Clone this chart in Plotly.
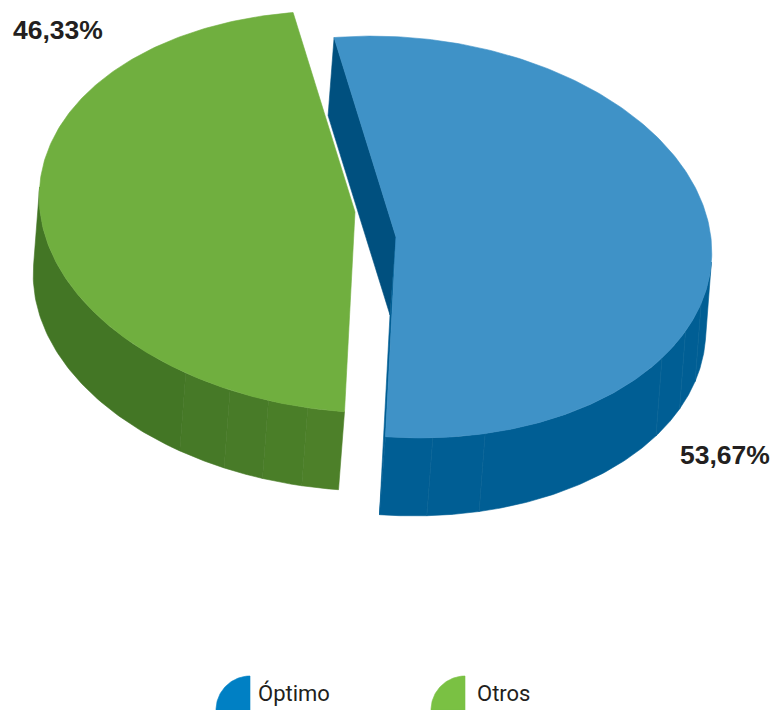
import numpy as np
import plotly.graph_objects as go

# --- data ---
categories = ["Óptimo", "Otros"]
shares = [53.67, 46.33]
value_labels = ["53,67%", "46,33%"]

# --- styles and geometry of the tilted disc (pixels) ---
W, H = 776, 710
top_colors = ["#3f92c7", "#70af3f"]
cut_colors = ["#00507f", "#437625"]
legend_colors = ["#0080c4", "#7ac143"]
wall_shades = {
    0: ["#005e94", "#005e94", "#005e94", "#005e94", "#005e94", "#005e94"],
    1: ["#4d8029", "#4a7e28", "#487b28", "#467927", "#437625"],
}
UX, UY = 315.6, 22.0   # rim axis running left to right
VX, VY = -10.5, 199.7  # rim axis running top to bottom
DEPTH = np.array([-6.0, 78.0])
# rim angle at which the side of the disc turns out of sight
TURN = np.degrees(np.arctan2(VX * DEPTH[1] - VY * DEPTH[0], UX * DEPTH[1] - UY * DEPTH[0]))
wall_breaks = {  # degrees round the rim
    0: [90, 81.4, 71.7, 30.7, 21.6, 13, TURN],
    1: [90, 96.7, 104.0, 111.4, 120.5, 180 + TURN],
}
centers = [(396.0, 237.0), (355.0, 212.0)]
START_DEG = 90.0


def rim(center, deg):
    t = np.radians(np.asarray(deg, dtype=float))
    return (center[0] + UX * np.cos(t) + VX * np.sin(t),
            center[1] + UY * np.cos(t) + VY * np.sin(t))


def poly(fig, x, y, color, line=None):
    fig.add_trace(go.Scatter(
        x=list(x), y=list(y), mode="lines", fill="toself", fillcolor=color,
        line=dict(color=line or color, width=0.6), hoverinfo="skip", showlegend=False,
    ))


def wall(fig, c, d0, d1, color):
    x, y = rim(c, np.linspace(d0, d1, 60))
    xs = np.r_[x, x[::-1] + DEPTH[0], x[0]]
    ys = np.r_[y, y[::-1] + DEPTH[1], y[0]]
    poly(fig, xs, ys, color)


fig = go.Figure()

sweep_blue = shares[0] * 3.6
sweep_green = shares[1] * 3.6
blue_range = (START_DEG - sweep_blue, START_DEG)
green_range = (START_DEG, START_DEG + sweep_green)

# blue slice: cut faces
cb = centers[0]
sx, sy = rim(cb, blue_range[0])
poly(fig, [sx, cb[0], cb[0] + DEPTH[0], sx + DEPTH[0], sx],
     [sy, cb[1], cb[1] + DEPTH[1], sy + DEPTH[1], sy], cut_colors[0])
ex, ey = rim(cb, blue_range[1])
poly(fig, [ex, cb[0], cb[0] + DEPTH[0], ex + DEPTH[0], ex],
     [ey, cb[1], cb[1] + DEPTH[1], ey + DEPTH[1], ey], wall_shades[0][0])
# rims
for i, c in enumerate(centers):
    br = wall_breaks[i]
    for j, shade in enumerate(wall_shades[i]):
        wall(fig, c, br[j], br[j + 1], shade)
# faint seams on the blue rim
for d in wall_breaks[0][1:-1]:
    x0, y0 = rim(cb, d)
    fig.add_trace(go.Scatter(
        x=[x0, x0 + DEPTH[0]], y=[y0, y0 + DEPTH[1]], mode="lines",
        line=dict(color="#0f6899", width=0.6), hoverinfo="skip", showlegend=False,
    ))

# top faces
for i, (rng, c) in enumerate(zip([blue_range, green_range], centers)):
    x, y = rim(c, np.linspace(rng[0], rng[1], 240))
    poly(fig, np.r_[c[0], x, c[0]], np.r_[c[1], y, c[1]], top_colors[i])

# legend icons: quarter discs
ICON_R = 34.0
icon_corner = [(250.0, 710.0), (465.0, 710.0)]
for (cx, cy), color in zip(icon_corner, legend_colors):
    t = np.radians(np.linspace(180, 270, 40))
    poly(fig, np.r_[cx, cx + ICON_R * np.cos(t), cx],
         np.r_[cy, cy + ICON_R * np.sin(t), cy], color)

INK = "#231f20"
label_pos = [(678, 455), (11, 30)]
for text, (x, y) in zip(value_labels, label_pos):
    fig.add_annotation(x=x, y=y, text=f"<b>{text}</b>", showarrow=False,
                       xanchor="left", yanchor="middle",
                       font=dict(family="Liberation Sans", size=26.5, color=INK))
legend_pos = [(256, 693), (475, 693)]
for text, (x, y) in zip(categories, legend_pos):
    fig.add_annotation(x=x, y=y, text=text, showarrow=False,
                       xanchor="left", yanchor="middle",
                       font=dict(family="Roboto", size=22, color=INK))

fig.update_layout(
    width=W, height=H, margin=dict(l=0, r=0, t=0, b=0),
    paper_bgcolor="white", plot_bgcolor="white", showlegend=False,
    xaxis=dict(range=[0, W], visible=False, fixedrange=True),
    yaxis=dict(range=[H, 0], visible=False, fixedrange=True),
)
fig.write_html("out.html", post_script="document.body.style.margin='0';",
               config={"displayModeBar": False})
